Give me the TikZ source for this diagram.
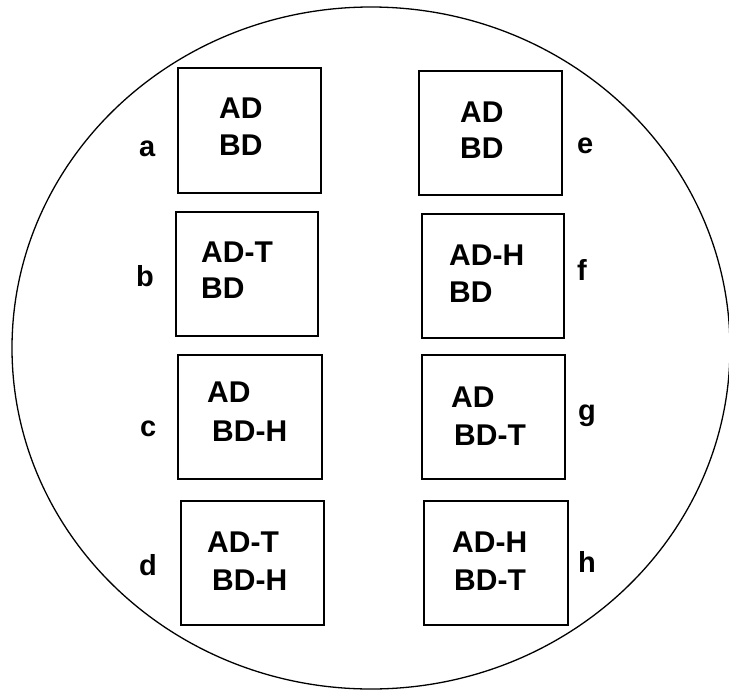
\documentclass[tikz,border=0pt]{standalone}
\usepackage{fontspec}
\setmainfont{Liberation Sans}
\begin{document}
\begin{tikzpicture}[x=1pt,y=-1pt,
  panel/.style={draw=black,line width=1.3pt,fill=white,inner sep=0pt},
  txt/.style={anchor=base west,inner sep=0pt,font=\fontsize{30}{34}\selectfont\bfseries},
  lbl/.style={anchor=base west,inner sep=0pt,font=\fontsize{29}{33}\selectfont\bfseries}]
\useasboundingbox (0,0) rectangle (729,691);
\draw[line width=1.3pt] (371,348) ellipse [x radius=359pt, y radius=341pt];
% boxes
\node[panel,minimum width=143pt,minimum height=125pt] (A) at (249.5,130.5) {};
\node[panel,minimum width=142pt,minimum height=124pt] (B) at (247,274) {};
\node[panel,minimum width=144pt,minimum height=124pt] (C) at (250,417) {};
\node[panel,minimum width=143pt,minimum height=124pt] (D) at (252.5,563) {};
\node[panel,minimum width=143pt,minimum height=124pt] (E) at (490.5,133) {};
\node[panel,minimum width=142pt,minimum height=124pt] (F) at (493,276) {};
\node[panel,minimum width=143pt,minimum height=124pt] (G) at (493.5,417) {};
\node[panel,minimum width=144pt,minimum height=124pt] (H) at (496,563) {};
% texts
\node[txt] (a1) at (219,118) {AD};
\node[txt] (a2) at (219,155) {BD};
\node[txt] (b1) at (201,262) {AD-T};
\node[txt] (b2) at (201,298) {BD};
\node[txt] (c1) at (207,402) {AD};
\node[txt] (c2) at (212,441) {BD-H};
\node[txt] (d1) at (207,552) {AD-T};
\node[txt] (d2) at (212,590) {BD-H};
\node[txt] (e1) at (460,122) {AD};
\node[txt] (e2) at (460,158) {BD};
\node[txt] (f1) at (449,265) {AD-H};
\node[txt] (f2) at (449,302) {BD};
\node[txt] (g1) at (451,407) {AD};
\node[txt] (g2) at (454,445) {BD-T};
\node[txt] (h1) at (452,552) {AD-H};
\node[txt] (h2) at (454,590) {BD-T};
% labels
\node[lbl] (la) at (139,156) {a};
\node[lbl] (lb) at (136,286) {b};
\node[lbl] (lc) at (140,436) {c};
\node[lbl] (ld) at (139,575) {d};
\node[lbl] (le) at (577,153) {e};
\node[lbl] (lf) at (577,280) {f};
\node[lbl] (lg) at (578,420) {g};
\node[lbl] (lh) at (578,572) {h};
\end{tikzpicture}
\end{document}
